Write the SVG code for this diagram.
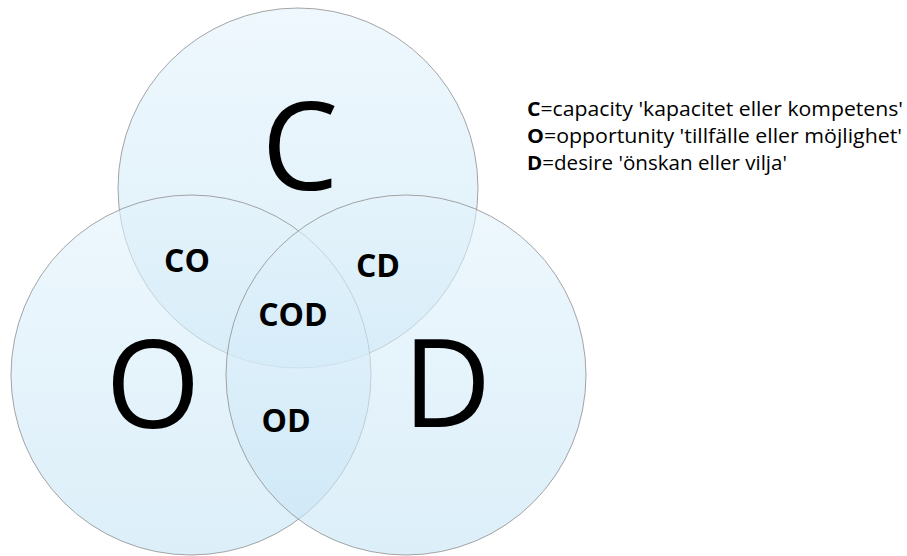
<svg xmlns="http://www.w3.org/2000/svg" width="907" height="556" viewBox="0 0 907 556">
<defs>
<linearGradient id="g" x1="0" y1="0" x2="0" y2="1">
<stop offset="0" stop-color="#e3f3fc"/>
<stop offset="1" stop-color="#c5e4f5"/>
</linearGradient>
<style>
.c{fill:url(#g);fill-opacity:0.6;stroke:#8f8f8f;stroke-width:1;stroke-opacity:0.8}
.big{font-family:"Open Sans","Liberation Sans",sans-serif;font-size:122px;fill:#000;text-anchor:middle}
.lab{font-family:"Open Sans","Liberation Sans",sans-serif;font-size:32px;font-weight:bold;fill:#000;text-anchor:middle}
.leg{font-family:"Open Sans","Liberation Sans",sans-serif;font-size:20px;fill:#000}
.b{font-weight:bold}
</style>
</defs>
<rect width="907" height="556" fill="#fff"/>
<g id="circle-C"><circle class="c" cx="298" cy="188" r="180"/></g>
<g id="circle-O"><circle class="c" cx="191" cy="375" r="180"/></g>
<g id="circle-D"><circle class="c" cx="406" cy="375" r="180"/></g>
<g id="label-C"><text class="big" x="300" y="190">C</text></g>
<g id="label-O"><text class="big" x="153" y="428">O</text></g>
<g id="label-D"><text class="big" x="447" y="427">D</text></g>
<g id="label-CO"><text class="lab" x="187" y="272">CO</text></g>
<g id="label-CD"><text class="lab" x="378" y="277">CD</text></g>
<g id="label-COD"><text class="lab" x="293" y="326">COD</text></g>
<g id="label-OD"><text class="lab" x="286" y="432">OD</text></g>
<g id="legend">
<text class="leg" x="527" y="116" textLength="376" lengthAdjust="spacingAndGlyphs"><tspan class="b">C</tspan>=capacity 'kapacitet eller kompetens'</text>
<text class="leg" x="527" y="143" textLength="375" lengthAdjust="spacingAndGlyphs"><tspan class="b">O</tspan>=opportunity 'tillfälle eller möjlighet'</text>
<text class="leg" x="527" y="170" textLength="260" lengthAdjust="spacingAndGlyphs"><tspan class="b">D</tspan>=desire 'önskan eller vilja'</text>
</g>
<g id="connectors"/>
</svg>
